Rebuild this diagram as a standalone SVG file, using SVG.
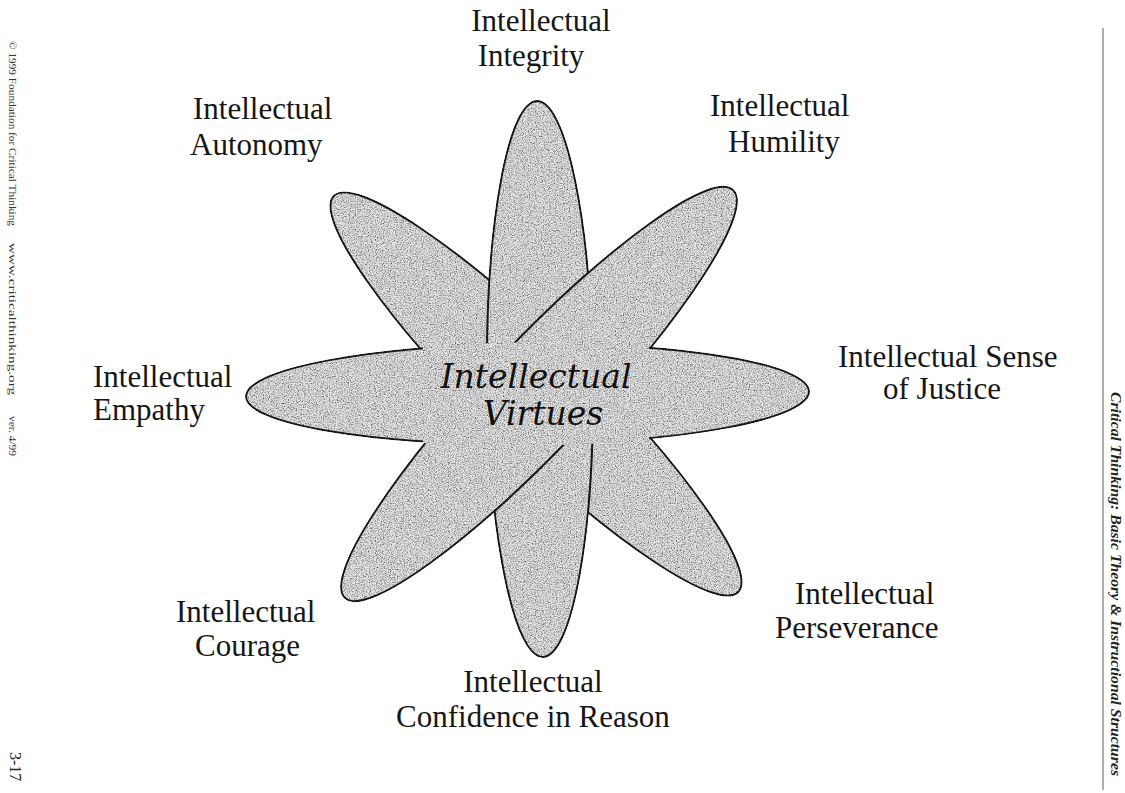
<svg xmlns="http://www.w3.org/2000/svg" width="1125" height="793" viewBox="0 0 1125 793">
<style>
.lbl{font-family:"Liberation Serif","Times New Roman",serif;font-size:31px;fill:#161616}
.petal{fill:#e6e6e6;stroke:#1a1a1a;stroke-width:2}
.cover{fill:#e6e6e6;stroke:none}
.center{font-family:"DejaVu Serif",serif;font-style:italic;font-size:33px;fill:#111;text-anchor:middle}
.side{font-family:"Liberation Serif","Times New Roman",serif;font-size:11px;fill:#333}
</style>
<defs>
<filter id="grain" x="-5%" y="-5%" width="110%" height="110%" color-interpolation-filters="sRGB">
<feTurbulence type="fractalNoise" baseFrequency="0.85" numOctaves="2" seed="7" result="noise"/>
<feColorMatrix in="noise" type="matrix" values="0.33 0.33 0.33 0 0 0.33 0.33 0.33 0 0 0.33 0.33 0.33 0 0 0 0 0 0 1" result="gray"/>
<feComponentTransfer in="gray" result="g2">
<feFuncR type="linear" slope="2.4" intercept="-0.3"/>
<feFuncG type="linear" slope="2.4" intercept="-0.3"/>
<feFuncB type="linear" slope="2.4" intercept="-0.3"/>
</feComponentTransfer>
<feBlend in="SourceGraphic" in2="g2" mode="multiply" result="b"/>
<feComposite in="b" in2="SourceGraphic" operator="in"/>
</filter>
<clipPath id="mid"><rect x="423" y="300" width="226" height="200"/></clipPath>
</defs>
<rect width="1125" height="793" fill="#fff"/>
<g id="flower" filter="url(#grain)">
<ellipse id="petal-nw-se" class="petal" cx="0" cy="0" rx="283" ry="53" transform="translate(536 394) rotate(44.4)"/>
<ellipse id="petal-vertical" class="petal" cx="0" cy="0" rx="53" ry="278" transform="translate(540 379) rotate(-0.6)"/>
<ellipse id="petal-ne-sw" class="petal" cx="0" cy="0" rx="281.5" ry="53" transform="translate(539 394) rotate(-46.4)"/>
<ellipse id="petal-horizontal" class="petal" cx="0" cy="0" rx="281.5" ry="50" transform="translate(527.5 394) rotate(-0.5)"/>
<g id="center-cover" clip-path="url(#mid)">
<ellipse class="cover" cx="0" cy="0" rx="283" ry="51.8" transform="translate(527.5 394) rotate(-0.5)"/>
</g>
</g>
<g id="center-label">
<text class="center" x="536" y="388">Intellectual</text>
<text class="center" x="543" y="425">Virtues</text>
</g>
<g id="integrity"><text class="lbl" x="541" y="31" text-anchor="middle">Intellectual</text><text class="lbl" x="531" y="66" text-anchor="middle">Integrity</text></g>
<g id="autonomy"><text class="lbl" x="193" y="119">Intellectual</text><text class="lbl" x="190" y="155">Autonomy</text></g>
<g id="humility"><text class="lbl" x="710" y="116">Intellectual</text><text class="lbl" x="728" y="152">Humility</text></g>
<g id="justice"><text class="lbl" x="838" y="367">Intellectual Sense</text><text class="lbl" x="883" y="399">of Justice</text></g>
<g id="empathy"><text class="lbl" x="93" y="387">Intellectual</text><text class="lbl" x="93" y="420">Empathy</text></g>
<g id="courage"><text class="lbl" x="176" y="622">Intellectual</text><text class="lbl" x="195" y="656">Courage</text></g>
<g id="perseverance"><text class="lbl" x="795" y="604">Intellectual</text><text class="lbl" x="775" y="638">Perseverance</text></g>
<g id="confidence"><text class="lbl" x="533" y="692" text-anchor="middle">Intellectual</text><text class="lbl" x="533" y="727" text-anchor="middle">Confidence in Reason</text></g>
<g id="left-margin">
<text class="side" transform="translate(9 41) rotate(90)" textLength="185" lengthAdjust="spacingAndGlyphs">© 1999 Foundation for Critical Thinking</text>
<text class="side" transform="translate(9 243) rotate(90)" textLength="152" lengthAdjust="spacingAndGlyphs">www.criticalthinking.org</text>
<text class="side" transform="translate(9 416) rotate(90)" textLength="40" lengthAdjust="spacingAndGlyphs">ver. 4/99</text>
<text transform="translate(10 752) rotate(90)" font-family="Liberation Serif, serif" font-size="16" fill="#222">3-17</text>
</g>
<g id="right-margin">
<line x1="1103" y1="28" x2="1103" y2="790" stroke="#777" stroke-width="1.2"/>
<text transform="translate(1111 392) rotate(90)" font-family="Liberation Serif, serif" font-style="italic" font-weight="bold" font-size="14" fill="#222" textLength="384" lengthAdjust="spacingAndGlyphs">Critical Thinking: Basic Theory &amp; Instructional Structures</text>
</g>
</svg>
